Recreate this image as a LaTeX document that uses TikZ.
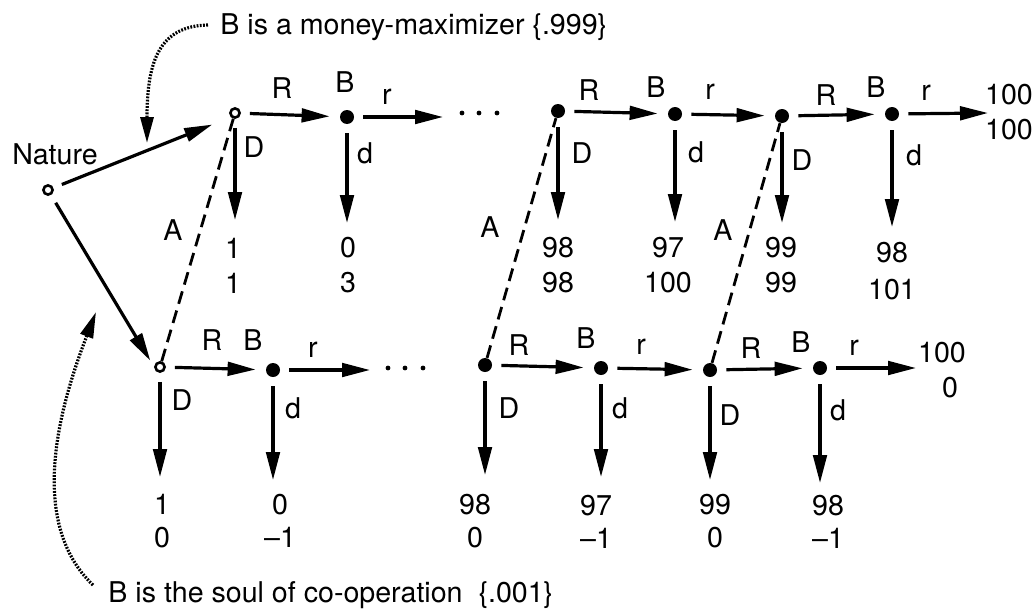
\documentclass[tikz,border=0pt]{standalone}
\usepackage{fontspec}
\setmainfont{TeX Gyre Heros}
\usetikzlibrary{arrows.meta}
\begin{document}
\begin{tikzpicture}[x=0.5pt,y=-0.5pt,
  open/.style={circle,draw,line width=1.3pt,inner sep=0pt,minimum size=4.6pt},
  full/.style={circle,fill,inner sep=0pt,minimum size=7pt},
  lbl/.style={inner sep=0pt,font=\fontsize{14.3}{17}\selectfont},
  pay/.style={inner sep=0pt,align=center,font=\fontsize{14.3}{17.5}\selectfont},
  payb/.style={inner sep=0pt,align=center,font=\fontsize{14.3}{16.5}\selectfont},
  arr/.style={-{Triangle[length=14pt,width=6.8pt]},line width=1.6pt,shorten <=4.5pt},
  tonode/.style={arr,shorten >=5pt},
  alt/.style={line width=1.4pt,dash pattern=on 6.5pt off 3.5pt},
  note/.style={-{Triangle[length=13pt,width=6.5pt]},line width=1.6pt,dash pattern=on 0.9pt off 0.7pt}
]
\useasboundingbox (0,0) rectangle (1036,610);

% nodes
\node[open] (N) at (48,190) {};
\node[lbl] (Nl) at (55,154) {Nature};
\node[open] (T1) at (235,113) {};
\node[full] (T2) at (347,117) {};
\node[full] (T3) at (558,111) {};
\node[full] (T4) at (675,114) {};
\node[full] (T5) at (782,116) {};
\node[full] (T6) at (892,114) {};
\node[open] (B1) at (160,367) {};
\node[full] (B2) at (273,370) {};
\node[full] (B3) at (485,365) {};
\node[full] (B4) at (601,368) {};
\node[full] (B5) at (710,370) {};
\node[full] (B6) at (820,368) {};

% ellipsis dots
\foreach \x in {462,479,497} \fill (\x,113) circle (1.2pt);
\foreach \x in {388,405,423} \fill (\x,368) circle (1.2pt);

% free ends
\coordinate (eT2) at (443,117);
\coordinate (eT6) at (988,113);
\coordinate (eB2) at (370,370);
\coordinate (eB6) at (916,368);
\coordinate (dT1) at (235,220);
\coordinate (dT2) at (347,223);
\coordinate (dT3) at (558,220);
\coordinate (dT4) at (675,222);
\coordinate (dT5) at (782,223);
\coordinate (dT6) at (892,227);
\coordinate (dB1) at (160,477);
\coordinate (dB2) at (273,480);
\coordinate (dB3) at (485,475);
\coordinate (dB4) at (601,477);
\coordinate (dB5) at (710,480);
\coordinate (dB6) at (820,483);
\coordinate (cTop) at (147,143);
\coordinate (sTop) at (208,25);
\coordinate (cBot) at (96,312);
\coordinate (sBot) at (93,585);

% horizontal arrows
\draw[tonode] (T1) -- (T2);
\draw[arr] (T2) -- (eT2);
\draw[tonode] (T3) -- (T4);
\draw[tonode] (T4) -- (T5);
\draw[tonode] (T5) -- (T6);
\draw[arr] (T6) -- (eT6);
\draw[tonode] (B1) -- (B2);
\draw[arr] (B2) -- (eB2);
\draw[tonode] (B3) -- (B4);
\draw[tonode] (B4) -- (B5);
\draw[tonode] (B5) -- (B6);
\draw[arr] (B6) -- (eB6);

% down arrows
\foreach \n in {T1,T2,T3,T4,T5,T6,B1,B2,B3,B4,B5,B6}
  \draw[arr] (\n) -- (d\n);

% nature moves
\draw[arr,shorten >=10pt] (N) -- (T1.south west);
\draw[arr,shorten >=3.7pt] (N) -- (B1.west);

% information sets (A)
\draw[alt] (B1) -- (T1);
\draw[alt] (B3) -- (T3);
\draw[alt] (B5) -- (T5);

% labels top
\node[lbl] (lR1) at (282,88) {R};
\node[lbl] (lB1) at (345,82) {B};
\node[lbl] (lr1) at (387,97) {r};
\node[lbl] (lR2) at (589,90) {R};
\node[lbl] (lB2) at (656,87) {B};
\node[lbl] (lr2) at (710,92) {r};
\node[lbl] (lR3) at (826,95) {R};
\node[lbl] (lB3) at (876,87) {B};
\node[lbl] (lr3) at (926,93) {r};
\node[lbl] (lD1) at (254,147) {D};
\node[lbl] (ld1) at (365,153) {d};
\node[lbl] (lD2) at (582,153) {D};
\node[lbl] (ld2) at (696,152) {d};
\node[lbl] (lD3) at (802,160) {D};
\node[lbl] (ld3) at (914,155) {d};

% labels bottom
\node[lbl] (mR1) at (212,340) {R};
\node[lbl] (mB1) at (253,340) {B};
\node[lbl] (mr1) at (313,350) {r};
\node[lbl] (mR2) at (519,345) {R};
\node[lbl] (mB2) at (586,338) {B};
\node[lbl] (mr2) at (641,347) {r};
\node[lbl] (mR3) at (751,348) {R};
\node[lbl] (mB3) at (801,342) {B};
\node[lbl] (mr3) at (854,348) {r};
\node[lbl] (mD1) at (182,400) {D};
\node[lbl] (md1) at (293,408) {d};
\node[lbl] (mD2) at (509,408) {D};
\node[lbl] (md2) at (620,408) {d};
\node[lbl] (mD3) at (730,415) {D};
\node[lbl] (md3) at (838,410) {d};

% A labels
\node[lbl] (A1) at (173,230) {A};
\node[lbl] (A2) at (490,227) {A};
\node[lbl] (A3) at (723,230) {A};

% payoffs top
\node[pay] (pT1) at (233,265.5) {1\\1};
\node[pay] (pT2) at (348,265.5) {0\\3};
\node[pay] (pT3) at (558,265.5) {98\\98};
\node[pay] (pT4) at (668,265.5) {97\\100};
\node[pay] (pT5) at (781,265.5) {99\\99};
\node[pay,font=\fontsize{14.3}{18.5}\selectfont] (pT6) at (892,271.5) {98\\101};
\node[pay] (pTe) at (1009,112.5) {100\\100};

% payoffs bottom
\node[payb] (pB1) at (162,521.5) {1\\0};
\node[payb] (pB2) at (280,520.5) {0\\–1};
\node[payb] (pB3) at (475,521.5) {98\\0};
\node[payb] (pB4) at (596,521.5) {97\\–1};
\node[payb] (pB5) at (715,521.5) {99\\0};
\node[payb] (pB6) at (828,521.5) {98\\–1};
\node[pay] (pBe) at (942,370.5) {100\\\hspace*{8pt}0};

% notes
\node[lbl,anchor=base west] (tm) at (220,35) {B is a money-maximizer \{.999\}};
\node[lbl,anchor=base west] (bm) at (108,602) {B is the soul of co-operation\ \ \{.001\}};
\draw[note] (sTop) .. controls (160,26) and (147,60) .. (cTop);
\draw[note] (sBot) .. controls (25,520) and (62,400) .. (cBot);
\end{tikzpicture}
\end{document}
